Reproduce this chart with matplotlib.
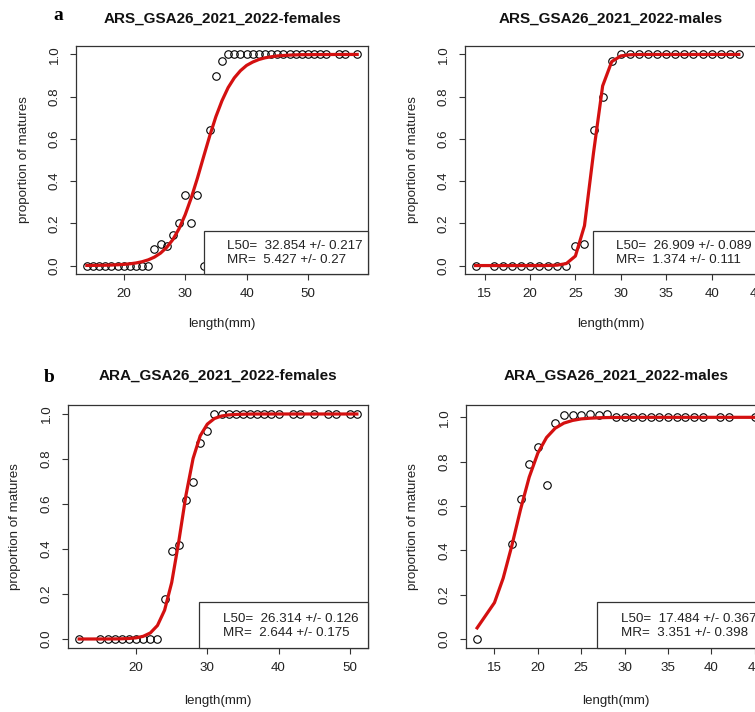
import matplotlib
matplotlib.use("Agg")
import matplotlib.pyplot as plt
from matplotlib.patches import Rectangle
from matplotlib.ticker import FormatStrFormatter

plt.rcParams["font.family"] = ["Liberation Sans", "DejaVu Sans"]

# ---- data ----
titles = ["ARS_GSA26_2021_2022-females", "ARS_GSA26_2021_2022-males",
          "ARA_GSA26_2021_2022-females", "ARA_GSA26_2021_2022-males"]

ars_f_len = [14, 15, 16, 17, 18, 19, 20, 21, 22, 23, 24,
             25, 26, 27, 28, 29, 30, 31, 32, 33, 34, 35, 36,
             37, 38, 39, 40, 41, 42, 43, 44, 45, 46, 47, 48, 49, 50, 51, 52, 53,
             55, 56, 58]
ars_f_prop = [0.0, 0.0, 0.0, 0.0, 0.0, 0.0, 0.0, 0.0, 0.0, 0.0, 0.0,
              0.08, 0.10, 0.095, 0.145, 0.20, 0.333, 0.20, 0.333, 0.0, 0.64, 0.90, 0.97,
              1.0, 1.0, 1.0, 1.0, 1.0, 1.0, 1.0, 1.0, 1.0, 1.0, 1.0, 1.0, 1.0, 1.0, 1.0, 1.0, 1.0,
              1.0, 1.0, 1.0]
ars_f_fit = [0.0005, 0.0007, 0.0011, 0.0016, 0.0024, 0.0037, 0.0055, 0.0082, 0.0122, 0.0182, 0.027,
             0.040, 0.059, 0.086, 0.123, 0.174, 0.240, 0.321, 0.414, 0.515, 0.614, 0.705, 0.781,
             0.843, 0.889, 0.923, 0.948, 0.964, 0.976, 0.984, 0.989, 0.993, 0.995, 0.997, 0.998,
             0.999, 0.999, 0.9994, 0.9996, 0.9997,
             0.9999, 0.9999, 1.0]

ars_m_len = [14, 16, 17, 18, 19, 20, 21, 22, 23, 24,
             25, 26, 27, 28, 29,
             30, 31, 32, 33, 34, 35, 36, 37, 38, 39, 40, 41, 42, 43]
ars_m_prop = [0.0, 0.0, 0.0, 0.0, 0.0, 0.0, 0.0, 0.0, 0.0, 0.0,
              0.095, 0.10, 0.64, 0.80, 0.97,
              1.0, 1.0, 1.0, 1.0, 1.0, 1.0, 1.0, 1.0, 1.0, 1.0, 1.0, 1.0, 1.0, 1.0]
ars_m_fit = [0.0, 0.0, 0.0, 0.0, 0.0, 0.0, 0.0001, 0.0004, 0.0019, 0.0095,
             0.045, 0.189, 0.536, 0.851, 0.966,
             0.993, 0.9986, 0.9997, 1.0, 1.0, 1.0, 1.0, 1.0, 1.0, 1.0, 1.0, 1.0, 1.0, 1.0]

ara_f_len = [12, 15, 16, 17, 18, 19, 20, 21, 22, 23,
             24, 25, 26, 27, 28, 29, 30,
             31, 32, 33, 34, 35, 36, 37, 38, 39, 40, 42, 43, 45, 47, 48, 50, 51]
ara_f_prop = [0.0, 0.0, 0.0, 0.0, 0.0, 0.0, 0.0, 0.0, 0.0, 0.0,
              0.18, 0.39, 0.42, 0.62, 0.70, 0.87, 0.925,
              1.0, 1.0, 1.0, 1.0, 1.0, 1.0, 1.0, 1.0, 1.0, 1.0, 1.0, 1.0, 1.0, 1.0, 1.0, 1.0, 1.0]
ara_f_fit = [0.0, 0.0001, 0.0002, 0.0004, 0.0010, 0.0023, 0.0052, 0.0119, 0.027, 0.060,
             0.128, 0.251, 0.435, 0.639, 0.802, 0.903, 0.955,
             0.980, 0.991, 0.996, 0.998, 0.999, 0.9997, 0.9999, 1.0, 1.0, 1.0, 1.0, 1.0, 1.0,
             1.0, 1.0, 1.0, 1.0]

ara_m_len = [13, 17, 18, 19, 20, 21, 22,
             23, 24, 25, 26, 27, 28,
             29, 30, 31, 32, 33, 34, 35, 36, 37, 38, 39, 41, 42, 45]
ara_m_prop = [0.0, 0.43, 0.63, 0.79, 0.865, 0.695, 0.975,
              1.01, 1.012, 1.01, 1.015, 1.01, 1.015,
              1.0, 1.0, 1.0, 1.0, 1.0, 1.0, 1.0, 1.0, 1.0, 1.0, 1.0, 1.0, 1.0, 1.0]
ara_m_fit_len = [13, 15, 16, 17, 18, 19, 20, 21, 22, 23, 24, 25, 26, 27, 28, 29,
                 30, 31, 32, 33, 34, 35, 36, 37, 38, 39, 41, 42, 45]
ara_m_fit = [0.050, 0.164, 0.274, 0.421, 0.584, 0.730, 0.839, 0.909, 0.951, 0.974,
             0.986, 0.993, 0.996, 0.998, 0.999, 0.9995,
             0.9997, 0.9999, 1.0, 1.0, 1.0, 1.0, 1.0, 1.0, 1.0, 1.0, 1.0, 1.0, 1.0]

x_ticks = [[20, 30, 40, 50], [15, 20, 25, 30, 35, 40, 45],
           [20, 30, 40, 50], [15, 20, 25, 30, 35, 40, 45]]

l50 = [32.854, 26.909, 26.314, 17.484]
l50_se = [0.217, 0.089, 0.126, 0.367]
mr = [5.427, 1.374, 2.644, 3.351]
mr_se = [0.27, 0.111, 0.175, 0.398]

panels = [
    (ars_f_len, ars_f_prop, ars_f_len, ars_f_fit),
    (ars_m_len, ars_m_prop, ars_m_len, ars_m_fit),
    (ara_f_len, ara_f_prop, ara_f_len, ara_f_fit),
    (ara_m_len, ara_m_prop, ara_m_fit_len, ara_m_fit),
]

# ---- layout (pixels) ----
W, H = 755, 712
fig = plt.figure(figsize=(W / 100, H / 100), dpi=100)
fig.patch.set_facecolor("white")

# left, top, right, bottom in px; right panels run past the image edge
rects = [(76, 46, 368, 274), (465, 46, 757, 274),
         (68, 405, 368, 648), (466, 405, 766, 648)]

FS = 9.6
RED = "#d41010"
FRAME = "#333333"

for i, (rx, ry, fx, fy) in enumerate(panels):
    l, t, r, b = rects[i]
    ax = fig.add_axes([l / W, 1 - b / H, (r - l) / W, (b - t) / H])
    ax.plot(rx, ry, "o", mfc="none", mec="black", ms=5.4, mew=0.8, zorder=2)
    ax.plot(fx, fy, "-", color=RED, lw=2.3, zorder=3)
    ax.margins(x=0.04, y=0.04)

    ax.set_xticks(x_ticks[i])
    ax.set_yticks([0.0, 0.2, 0.4, 0.6, 0.8, 1.0])
    ax.yaxis.set_major_formatter(FormatStrFormatter("%.1f"))
    ax.tick_params(direction="out", length=4.5, width=0.8, color=FRAME,
                   labelsize=FS, labelcolor="#222222")
    ax.tick_params(axis="x", pad=5.5)
    ax.tick_params(axis="y", pad=6.5, labelrotation=90)
    for lab in ax.get_yticklabels():
        lab.set_va("center")
    for s in ax.spines.values():
        s.set_linewidth(0.9)
        s.set_color(FRAME)

    ax.text(0.5, -0.218, "length(mm)", transform=ax.transAxes,
            ha="center", va="center", fontsize=FS, color="#222222")
    ax.text(-0.177, 0.5, "proportion of matures", transform=ax.transAxes,
            ha="center", va="center", rotation=90, fontsize=FS, color="#222222")
    ax.text(0.5, 1.121, titles[i], transform=ax.transAxes, ha="center",
            va="center", fontsize=11, fontweight="bold", color="#111111")

    # R-style bottomright legend box
    ax.add_patch(Rectangle((1 - 0.563, 0), 0.563, 0.19, transform=ax.transAxes,
                           facecolor="white", edgecolor=FRAME, lw=0.9,
                           zorder=4, clip_on=False))
    ax.text(0.518, 0.121, f"L50=  {l50[i]} +/- {l50_se[i]}", transform=ax.transAxes,
            ha="left", va="center", fontsize=FS, color="#222222", zorder=5)
    ax.text(0.518, 0.060, f"MR=  {mr[i]} +/- {mr_se[i]}", transform=ax.transAxes,
            ha="left", va="center", fontsize=FS, color="#222222", zorder=5)

fig.text(58 / W, 1 - 15 / H, "a", family="Liberation Serif", fontweight="bold",
         fontsize=14, ha="center", va="center")
fig.text(49 / W, 1 - 378 / H, "b", family="Liberation Serif", fontweight="bold",
         fontsize=14, ha="center", va="center")

fig.savefig("out.png", dpi=100)
